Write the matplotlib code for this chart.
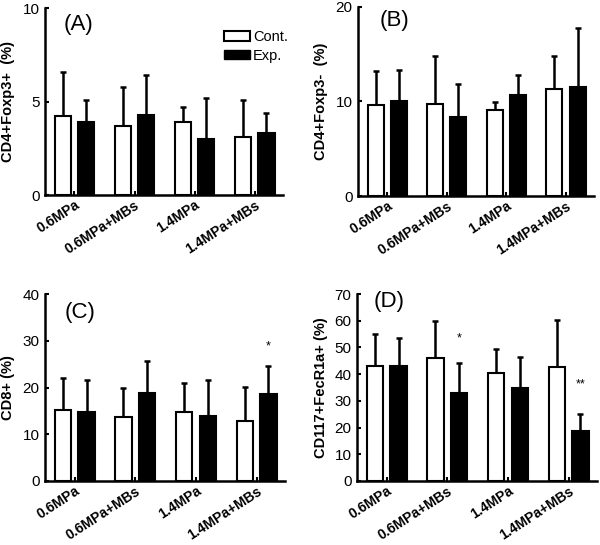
import numpy as np
import matplotlib
matplotlib.use("Agg")
import matplotlib.pyplot as plt
import matplotlib.transforms as mtransforms
from matplotlib.patches import Patch

plt.rcParams['font.family'] = ['Liberation Sans', 'DejaVu Sans']

groups = ["0.6MPa", "0.6MPa+MBs", "1.4MPa", "1.4MPa+MBs"]

# (A) CD4+Foxp3+
a_cont = [4.2, 3.7, 3.9, 3.1]
a_cont_top = [6.6, 5.8, 4.7, 5.1]
a_exp = [3.9, 4.3, 3.0, 3.3]
a_exp_top = [5.1, 6.4, 5.2, 4.4]

# (B) CD4+Foxp3-
b_cont = [9.6, 9.7, 9.1, 11.3]
b_cont_top = [13.2, 14.8, 9.9, 14.8]
b_exp = [10.0, 8.4, 10.7, 11.5]
b_exp_top = [13.3, 11.9, 12.8, 17.8]

# (C) CD8+
c_cont = [15.2, 13.6, 14.8, 12.8]
c_cont_top = [22.1, 20.0, 20.9, 20.2]
c_exp = [14.7, 18.9, 13.9, 18.7]
c_exp_top = [21.6, 25.6, 21.5, 24.7]

# (D) CD117+FecR1a+
d_cont = [42.9, 46.0, 40.4, 42.5]
d_cont_top = [55.0, 60.0, 49.3, 60.3]
d_exp = [43.2, 32.8, 34.8, 18.8]
d_exp_top = [53.4, 44.0, 46.3, 24.9]

panels = [
    # letter, ylabel, ymax, ticks, cont, cont_top, exp, exp_top, stars
    ("(A)", "CD4+Foxp3+  (%)", 10, [0, 5, 10], a_cont, a_cont_top, a_exp, a_exp_top, {}),
    ("(B)", "CD4+Foxp3-  (%)", 20, [0, 10, 20], b_cont, b_cont_top, b_exp, b_exp_top, {}),
    ("(C)", "CD8+ (%)", 40, [0, 10, 20, 30, 40], c_cont, c_cont_top, c_exp, c_exp_top,
     {3: ("*", 27.5)}),
    ("(D)", "CD117+FecR1a+ (%)", 70, [0, 10, 20, 30, 40, 50, 60, 70], d_cont, d_cont_top,
     d_exp, d_exp_top, {1: ("*", 51.0), 3: ("**", 34.0)}),
]

# axes boxes in pixels (left, top, right, bottom) of a 600x545 figure
boxes = [(45, 8, 283, 195), (358, 7, 594, 196), (45, 294, 285, 481), (357, 294, 597, 481)]
letter_pos = [(0.08, 0.91), (0.09, 0.93), (0.08, 0.90), (0.07, 0.96)]

W, H = 600, 545
fig = plt.figure(figsize=(6, 5.45), dpi=100)

x = np.arange(len(groups))
bw = 0.27
off = 0.195

for i, (letter, ylab, ymax, ticks, cont, ctop, exp, etop, stars) in enumerate(panels):
    l, t, r, b = boxes[i]
    ax = fig.add_axes([l / W, 1 - b / H, (r - l) / W, (b - t) / H])
    cont = np.array(cont); exp = np.array(exp)
    ax.bar(x - off, cont, bw, color="white", edgecolor="black", linewidth=1.5, zorder=2)
    ax.bar(x + off, exp, bw, color="black", edgecolor="black", linewidth=1.5, zorder=2)
    ax.errorbar(x - off, cont, yerr=[np.zeros(4), np.array(ctop) - cont], fmt="none",
                ecolor="black", elinewidth=1.8, capsize=2, capthick=1.8, zorder=1)
    ax.errorbar(x + off, exp, yerr=[np.zeros(4), np.array(etop) - exp], fmt="none",
                ecolor="black", elinewidth=1.8, capsize=2, capthick=1.8, zorder=1)
    for k, (s, yv) in stars.items():
        ax.text(x[k] + off, yv, s, ha="center", va="bottom", fontsize=9)

    ax.set_xlim(-0.49, 3.47)
    ax.set_ylim(0, ymax)
    ax.set_yticks(ticks)
    ax.set_yticklabels([str(v) for v in ticks], fontsize=11)
    ax.set_xticks(x)
    ax.set_xticklabels(groups, rotation=33, ha="right", va="top", rotation_mode="anchor",
                       fontsize=10, fontweight="bold")
    shift = mtransforms.ScaledTranslation(0.20, 0, fig.dpi_scale_trans)
    for lab in ax.get_xticklabels():
        lab.set_transform(lab.get_transform() + shift)
    ax.tick_params(axis="both", direction="in", length=3, width=1.5, pad=4)
    ax.tick_params(axis="x", pad=2)
    ax.set_ylabel(ylab, fontsize=10.5, fontweight="bold", labelpad=5)
    for sp in ["top", "right"]:
        ax.spines[sp].set_visible(False)
    for sp in ["left", "bottom"]:
        ax.spines[sp].set_linewidth(1.8)
    ax.text(letter_pos[i][0], letter_pos[i][1], letter, transform=ax.transAxes,
            fontsize=16, ha="left", va="center")

    if i == 0:
        handles = [Patch(facecolor="white", edgecolor="black", linewidth=1.5, label="Cont."),
                   Patch(facecolor="black", edgecolor="black", label="Exp.")]
        ax.legend(handles=handles, loc="upper left", bbox_to_anchor=(0.72, 0.92),
                  frameon=False, fontsize=10.5, handlelength=1.8, handleheight=0.6,
                  handletextpad=0.2, labelspacing=0.3, borderpad=0)

fig.savefig("out.png", dpi=100)
